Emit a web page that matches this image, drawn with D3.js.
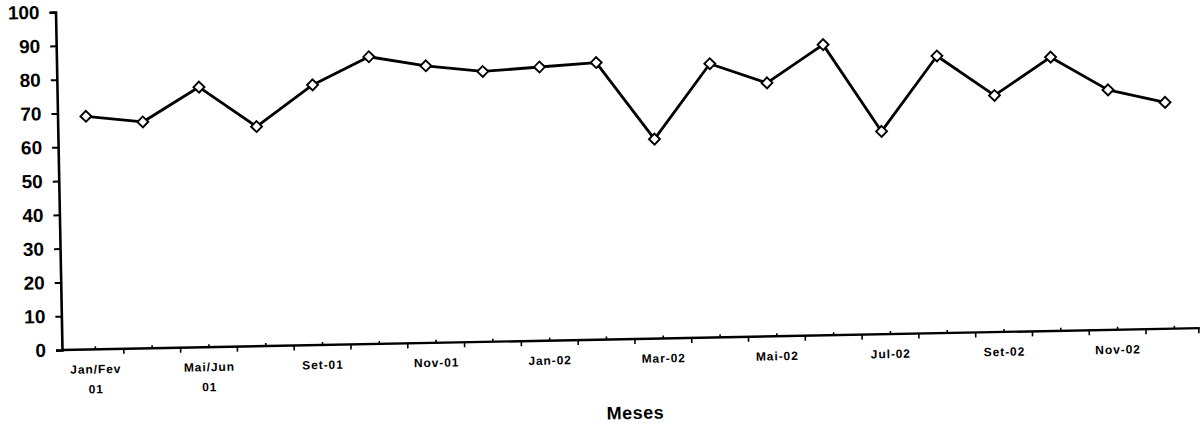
<!DOCTYPE html>
<html>
<head>
<meta charset="utf-8">
<script src="https://cdn.jsdelivr.net/npm/d3@7"></script>
<style>
  body { margin: 0; background: #fff; }
  .axis text { font-family: "Liberation Sans", Arial, sans-serif; font-weight: bold; fill: #000; }
</style>
</head>
<body>
<div class="chart"></div>
<script>
// meses (rotulos mostrados de dois em dois)
var months = ["Jan/Fev 01", "Mar/Abr 01", "Mai/Jun 01", "Jul/Ago 01", "Set-01", "Out-01", "Nov-01", "Dez-01",
              "Jan-02", "Fev-02", "Mar-02", "Abr-02", "Mai-02", "Jun-02", "Jul-02", "Ago-02",
              "Set-02", "Out-02", "Nov-02", "Dez-02"];
var values = [69, 67, 77, 65, 77, 85, 82, 80, 81, 82, 59, 81, 75, 86, 60, 82, 70, 81, 71, 67];
var yTicks = [0, 10, 20, 30, 40, 50, 60, 70, 80, 90, 100];
var xTitle = "Meses";

var dims = { width: 1204, height: 425, left: 62, top: 12, plotW: 1136, plotH: 338 };

var svg = d3.select(".chart")
    .append("svg")
    .attr("width", dims.width)
    .attr("height", dims.height);

// the scanned page is slightly rotated
var g = svg.append("g")
    .attr("transform", "rotate(-1.1," + dims.left + "," + (dims.top + dims.plotH) + ") translate(" + dims.left + "," + dims.top + ")");

var x = d3.scaleBand().domain(months).range([0, dims.plotW]);
var y = d3.scaleLinear().domain([0, 100]).range([dims.plotH, 0]);
var bw = x.bandwidth();

// y axis
var yAxis = d3.axisLeft(y).tickValues(yTicks).tickSize(6).tickPadding(10);
var yg = g.append("g").attr("class", "axis").call(yAxis);
yg.select(".domain").attr("stroke", "#000").attr("stroke-width", 2.6);
yg.selectAll(".tick line").attr("stroke", "#000").attr("stroke-width", 2);
yg.selectAll(".tick text").style("font-size", "19px");

// x axis line
g.append("line")
    .attr("x1", 0).attr("x2", dims.plotW + 2)
    .attr("y1", y(0)).attr("y2", y(0))
    .attr("stroke", "#000").attr("stroke-width", 2.4);

// up ticks + labels (scan puts them a little right of the points)
var xAxis = d3.axisBottom(x).tickSize(-3).tickSizeOuter(0).tickFormat("");
var xg = g.append("g").attr("class", "axis")
    .attr("transform", "translate(5," + y(0) + ")")
    .call(xAxis);
xg.select(".domain").remove();
xg.selectAll(".tick line").attr("stroke", "#000").attr("stroke-width", 1.6);

xg.selectAll(".tick")
    .filter(function (d, i) { return i % 2 === 0; })
    .append("text")
    .attr("text-anchor", "middle")
    .style("font-size", "12px")
    .style("letter-spacing", "0.9px")
    .each(function (d) {
        var parts = d.indexOf("/") > -1 ? d.split(" ") : [d];
        var t = d3.select(this);
        parts.forEach(function (p, k) {
            t.append("tspan").attr("x", 0).attr("y", 24 + k * 20).text(p);
        });
    });

// down ticks at category boundaries
g.append("g").selectAll("line")
    .data(months.slice(1))
    .enter().append("line")
    .attr("x1", function (d) { return x(d) + 5; })
    .attr("x2", function (d) { return x(d) + 5; })
    .attr("y1", y(0)).attr("y2", y(0) + 5)
    .attr("stroke", "#000").attr("stroke-width", 1.6);
g.append("line")
    .attr("x1", dims.plotW + 1).attr("x2", dims.plotW + 1)
    .attr("y1", y(0)).attr("y2", y(0) + 5)
    .attr("stroke", "#000").attr("stroke-width", 1.6);

// x title
g.append("text")
    .attr("x", dims.plotW / 2 + 4)
    .attr("y", y(0) + 80)
    .attr("text-anchor", "middle")
    .style("font-family", "'Liberation Sans', Arial, sans-serif")
    .style("font-weight", "bold")
    .style("font-size", "18px")
    .style("letter-spacing", "0.5px")
    .text(xTitle);

// line
var line = d3.line()
    .x(function (d, i) { return x(months[i]) + bw / 2; })
    .y(function (d) { return y(d); });

g.append("path")
    .datum(values)
    .attr("fill", "none")
    .attr("stroke", "#000")
    .attr("stroke-width", 2.8)
    .attr("stroke-linejoin", "round")
    .attr("d", line);

// diamond markers
g.selectAll(".marker")
    .data(values)
    .enter().append("path")
    .attr("class", "marker")
    .attr("d", d3.symbol().type(d3.symbolSquare).size(60))
    .attr("transform", function (d, i) {
        return "translate(" + (x(months[i]) + bw / 2) + "," + y(d) + ") rotate(45)";
    })
    .attr("fill", "#fff")
    .attr("stroke", "#000")
    .attr("stroke-width", 1.9);
</script>
</body>
</html>
